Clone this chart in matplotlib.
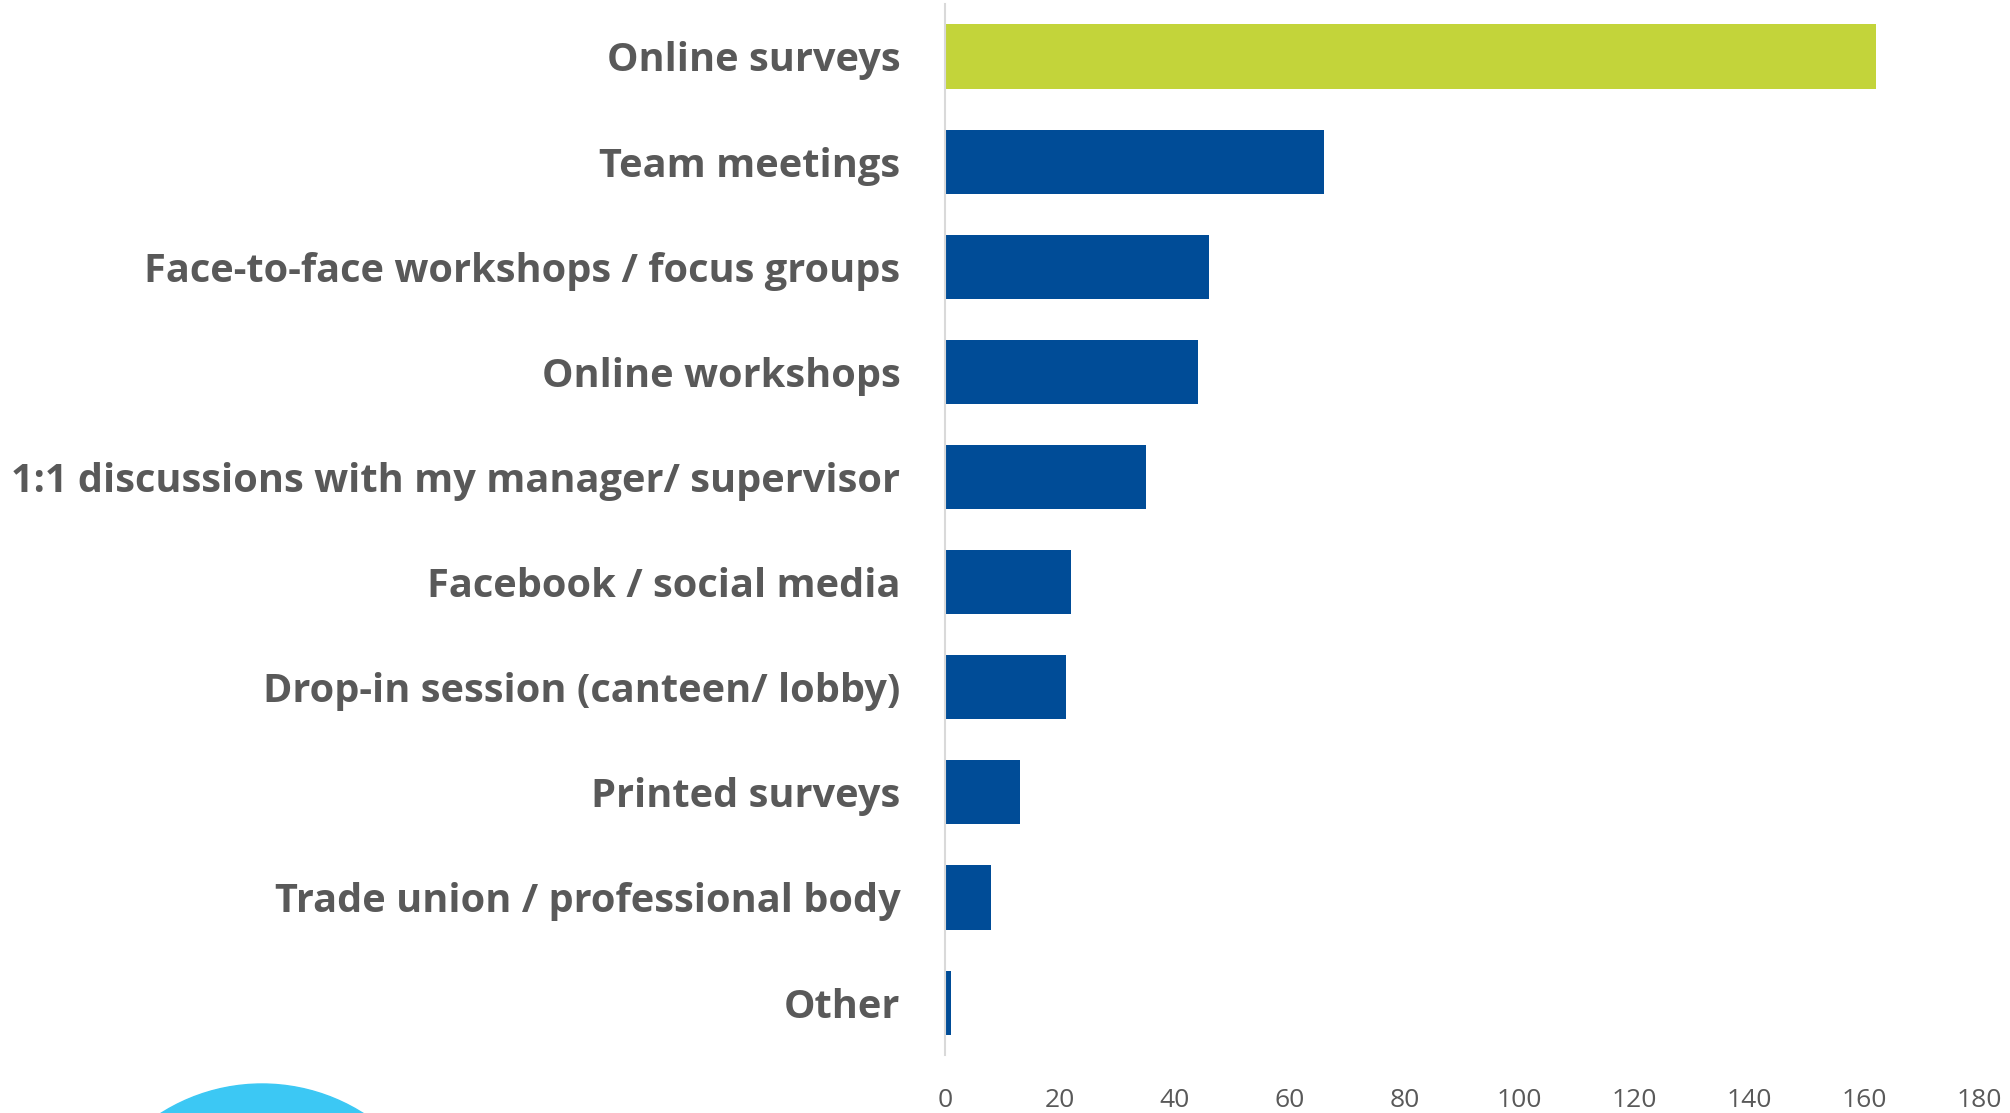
import matplotlib.pyplot as plt
from matplotlib.patches import Ellipse

# Data
categories = [
    "Online surveys",
    "Team meetings",
    "Face-to-face workshops / focus groups",
    "Online workshops",
    "1:1 discussions with my manager/ supervisor",
    "Facebook / social media",
    "Drop-in session (canteen/ lobby)",
    "Printed surveys",
    "Trade union / professional body",
    "Other",
]
counts = [162, 66, 46, 44, 35, 22, 21, 13, 8, 1]
x_ticks = [0, 20, 40, 60, 80, 100, 120, 140, 160, 180]

highlight = "#c3d43a"
base_color = "#004c97"
text_gray = "#595959"

plt.rcParams['font.family'] = ['Open Sans', 'DejaVu Sans']

fig = plt.figure(figsize=(20.10, 11.13), dpi=100)
ax = fig.add_axes([0.4701, 0.052, 0.5145, 0.9445])

colors = [highlight] + [base_color] * (len(categories) - 1)
ypos = list(range(len(categories)))
ax.barh(ypos, counts, height=0.61, color=colors)

ax.set_ylim(len(categories) - 0.5, -0.5)
ax.set_xlim(0, 180)
ax.set_yticks(ypos)
ax.set_yticklabels(categories, fontsize=28.6, fontweight="bold", color=text_gray)
ax.set_xticks(x_ticks)
ax.set_xticklabels([str(t) for t in x_ticks], fontsize=19, color=text_gray)

ax.tick_params(axis="y", length=0, pad=32)
ax.tick_params(axis="x", length=0, pad=24)

for side in ["top", "right", "bottom"]:
    ax.spines[side].set_visible(False)
ax.spines["left"].set_color("#d9d9d9")
ax.spines["left"].set_linewidth(1.5)

# decorative circle cut off at the bottom left
circ = Ellipse((262 / 2010, 1 - 1273 / 1113), 2 * 189 / 2010, 2 * 189 / 1113,
               transform=fig.transFigure, color="#3cc8f4")
fig.patches.append(circ)

fig.savefig("out.png", dpi=100)
